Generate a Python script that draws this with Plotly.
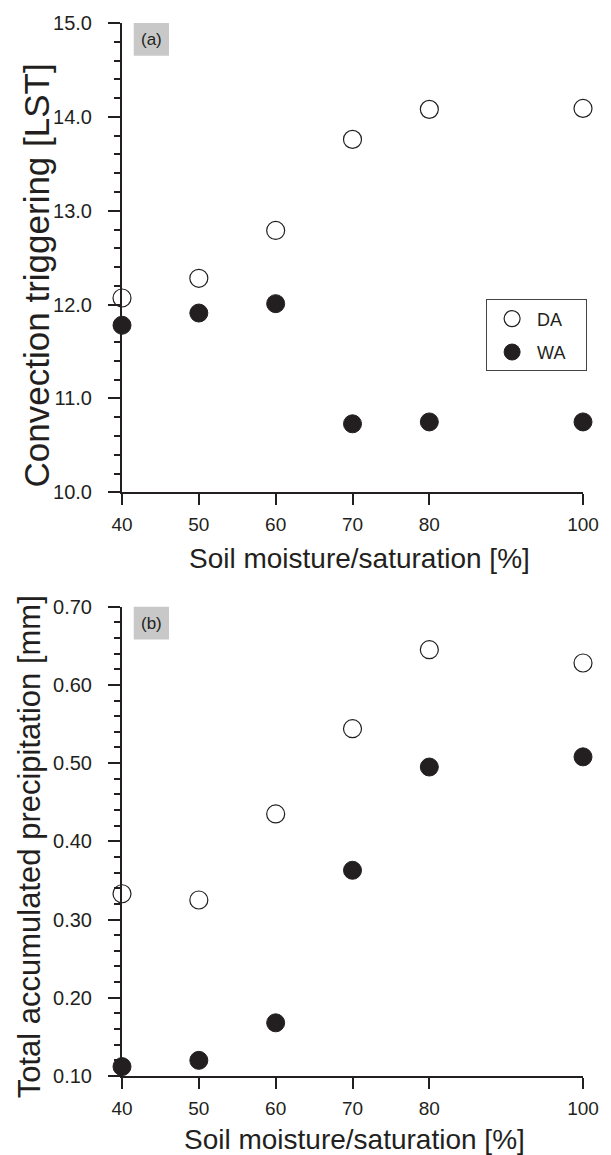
import plotly.graph_objects as go

# ---- data ----
soil_moisture = [40, 50, 60, 70, 80, 100]
x_tick_vals = [40, 50, 60, 70, 80, 100]

trigger_DA = [12.07, 12.28, 12.79, 13.76, 14.08, 14.09]
trigger_WA = [11.78, 11.91, 12.01, 10.73, 10.75, 10.75]

precip_DA = [0.333, 0.325, 0.435, 0.544, 0.645, 0.628]
precip_WA = [0.112, 0.120, 0.168, 0.363, 0.495, 0.508]

series_names = ["DA", "WA"]
panel_labels = ["(a)", "(b)"]
x_title = "Soil moisture/saturation [%]"
y_title_a = "Convection triggering [LST]"
y_title_b = "Total accumulated precipitation [mm]"

# ---- layout geometry (pixels) ----
W, H = 611, 1155
ML, MR, MT, MB = 122, 18, 17, 79
PW = W - ML - MR
PH = H - MT - MB
panel_h = 472


def px2x(px):
    return (px - ML) / PW


def px2y(py):
    return (H - MB - py) / PH


FONT = "Liberation Sans, Arial, Helvetica, sans-serif"
INK = "#231f20"
PAD = "\u00a0\u00a0\u00a0"

open_marker = dict(symbol="circle", size=18, color="white", line=dict(color=INK, width=1.2))
fill_marker = dict(symbol="circle", size=18, color=INK, line=dict(color=INK, width=1))

fig = go.Figure()
fig.add_trace(go.Scatter(x=soil_moisture, y=trigger_DA, mode="markers", name=series_names[0] + PAD,
                         marker=open_marker, xaxis="x", yaxis="y", cliponaxis=False, legendgroup="DA"))
fig.add_trace(go.Scatter(x=soil_moisture, y=trigger_WA, mode="markers", name=series_names[1] + PAD,
                         marker=fill_marker, xaxis="x", yaxis="y", cliponaxis=False, legendgroup="WA"))
fig.add_trace(go.Scatter(x=soil_moisture, y=precip_DA, mode="markers", name=series_names[0],
                         marker=open_marker, xaxis="x2", yaxis="y2", cliponaxis=False, showlegend=False))
fig.add_trace(go.Scatter(x=soil_moisture, y=precip_WA, mode="markers", name=series_names[1],
                         marker=fill_marker, xaxis="x2", yaxis="y2", cliponaxis=False, showlegend=False))

xaxis_common = dict(
    range=[40, 100], tickmode="array", tickvals=x_tick_vals, ticktext=[str(v) for v in x_tick_vals],
    showline=True, linecolor=INK, linewidth=2, ticks="outside", ticklen=11, tickwidth=2,
    tickcolor=INK, showgrid=False, zeroline=False, ticklabelstandoff=3,
    tickfont=dict(family=FONT, size=19, color=INK),
)
yaxis_common = dict(
    showline=True, linecolor=INK, linewidth=2, ticks="outside", ticklen=12, tickwidth=2,
    tickcolor=INK, showgrid=False, zeroline=False, ticklabelstandoff=12,
    tickfont=dict(family=FONT, size=20, color=INK),
)

top_dom = [1 - panel_h / PH, 1]
bot_dom = [0, panel_h / PH]

fig.update_layout(
    width=W, height=H,
    margin=dict(l=ML, r=MR, t=MT, b=MB),
    paper_bgcolor="white", plot_bgcolor="white",
    font=dict(family=FONT, color=INK),
    xaxis=dict(**xaxis_common, anchor="y", domain=[0, 1]),
    yaxis=dict(**yaxis_common, anchor="x", domain=top_dom, range=[10, 15], dtick=1, tick0=10,
               tickformat=".1f",
               minor=dict(dtick=0.2, ticks="outside", ticklen=6, tickwidth=1.5, tickcolor=INK)),
    xaxis2=dict(**xaxis_common, anchor="y2", domain=[0, 1]),
    yaxis2=dict(**yaxis_common, anchor="x2", domain=bot_dom, range=[0.1, 0.7], dtick=0.1, tick0=0.1,
                tickformat=".2f",
                minor=dict(dtick=0.02, ticks="outside", ticklen=6, tickwidth=1.5, tickcolor=INK)),
    showlegend=True,
    legend=dict(x=px2x(494), y=px2y(295), xanchor="left", yanchor="top",
                bordercolor="#444444", borderwidth=1, bgcolor="white",
                font=dict(family=FONT, size=18, color=INK), tracegroupgap=7,
                itemsizing="trace", itemwidth=40),
)

# panel label boxes
for label, y0 in zip(panel_labels, [17, 604]):
    fig.add_shape(type="rect", xref="paper", yref="paper",
                  x0=px2x(134), x1=px2x(170), y0=px2y(y0 + 33), y1=px2y(y0),
                  fillcolor="#c8c8c8", line=dict(width=0), layer="above")
    fig.add_annotation(text=label, xref="paper", yref="paper", x=px2x(152), y=px2y(y0 + 16.5),
                       xanchor="center", yanchor="middle", showarrow=False,
                       font=dict(family=FONT, size=17, color=INK))

# axis titles as annotations
fig.add_annotation(text=x_title, xref="paper", yref="paper", x=px2x(365), y=px2y(556),
                   xanchor="center", yanchor="middle", showarrow=False,
                   font=dict(family=FONT, size=28, color=INK))
fig.add_annotation(text=x_title, xref="paper", yref="paper", x=px2x(360), y=px2y(1140),
                   xanchor="center", yanchor="middle", showarrow=False,
                   font=dict(family=FONT, size=28, color=INK))
fig.add_annotation(text=y_title_a, xref="paper", yref="paper", x=px2x(35), y=px2y(271),
                   xanchor="center", yanchor="middle", textangle=-90, showarrow=False,
                   font=dict(family=FONT, size=35, color=INK))
fig.add_annotation(text=y_title_b, xref="paper", yref="paper", x=px2x(27), y=px2y(846),
                   xanchor="center", yanchor="middle", textangle=-90, showarrow=False,
                   font=dict(family=FONT, size=31, color=INK))

fig.write_html("out.html")
